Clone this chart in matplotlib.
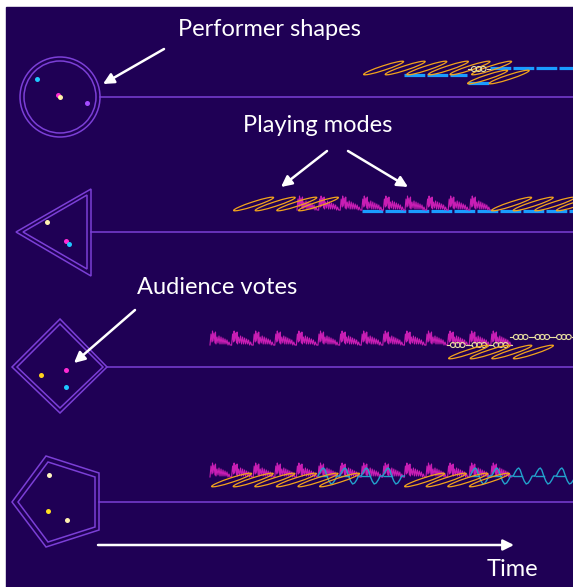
import numpy as np
import matplotlib
matplotlib.use('Agg')
import matplotlib.pyplot as plt
from matplotlib.patches import Ellipse, Polygon, Circle, Rectangle

W, H = 573, 587
BG = '#1f0055'
SHAPE = '#7b3fd6'
STEP = 21.6

# performer rows: y of the timeline and where it starts (right edge of the shape)
row_y = [97, 232, 367, 502]
line_start = [100, 91, 107, 99]

# shape outlines, pixel coords
circle_c = (60, 97)
circle_r = [40, 36]
tri_outer = [(16, 232), (91, 189), (91, 276)]
tri_inner = [(23, 232), (87, 195), (87, 269)]
dia_outer = [(12, 367), (60, 319), (107, 367), (60, 413)]
dia_inner = [(17, 367), (60, 324), (103, 367), (60, 408)]
pent_outer = [(12, 502), (46, 456), (99, 473), (99, 530), (46, 547)]
pent_inner = [(18, 502), (48, 462), (95, 477), (95, 527), (48, 542)]

# audience votes (x, y, colour)
dots = [
    (37, 79, '#1ec8ff'), (58, 95, '#ff2ad4'), (60, 97, '#fff2a8'), (87, 103, '#a44cff'),
    (47, 222, '#fff2b0'), (66, 241, '#ff2ad4'), (69, 244, '#1ec8ff'),
    (41, 375, '#ffd21e'), (66, 370, '#ff2ad4'), (66, 387, '#1ec8ff'),
    (49, 475, '#fff6c0'), (48, 511, '#ffe020'), (67, 520, '#fff0b0'),
]

# playing mode runs: (kind, x start, x end, y)
runs = [
    ('dash', 404, 467, 75), ('dash', 468, 490, 83), ('dash', 490, 573, 68),
    ('ellipse', 362, 505, 68), ('ellipse', 466, 526, 77), ('chain', 468, 490, 69),
    ('dash', 362, 573, 211), ('magenta', 297, 490, 210),
    ('ellipse', 232, 336, 204), ('ellipse', 490, 595, 204),
    ('magenta', 210, 512, 345), ('chain', 510, 573, 337), ('chain', 447, 510, 345),
    ('ellipse', 447, 548, 352),
    ('magenta', 210, 512, 477), ('wave', 318, 405, 476), ('wave', 470, 573, 476),
    ('ellipse', 210, 356, 480), ('ellipse', 403, 506, 480),
]

# glyph outlines for one repeat unit
mag_dx = [0, 1, 2, 2.5, 3, 4, 5, 5.5, 6, 7, 8, 9, 10, 11, 12, 13, 14, 15, 16, 17, 18, 19, 20, 21]
mag_dy = [0, -11, -3, -14, -4, -12, -2, -13, -1, -8, -2, -9, -1, -8, -1, -7, -1, -6, -1, -5, 0, -3, 0, 0]
wave_dx = [0, 2, 4, 5.5, 7, 9, 11, 13, 15, 17, 19, 21.6]
wave_dy = [0, -4, -7, -8, -6, 0, 5, 8, 7, 4, 0, 0]

fig = plt.figure(figsize=(W / 100, H / 100), dpi=100)
fig.patch.set_facecolor('white')
ax = fig.add_axes([0, 0, 1, 1])
ax.set_xlim(0, W)
ax.set_ylim(H, 0)
ax.axis('off')
ax.add_patch(Rectangle((6, 7), W - 6, H - 7, color=BG, zorder=0))

# shapes and timelines
for r in circle_r:
    ax.add_patch(Circle(circle_c, r, fill=False, ec=SHAPE, lw=1.1, zorder=2))
for pts in [tri_outer, tri_inner, dia_outer, dia_inner, pent_outer, pent_inner]:
    ax.add_patch(Polygon(pts, closed=True, fill=False, ec=SHAPE, lw=1.1, zorder=2))
for y, x0 in zip(row_y, line_start):
    ax.plot([x0, W], [y, y], color=SHAPE, lw=1.1, zorder=2)

for x, y, c in dots:
    ax.plot(x, y, 'o', ms=3.6, color=c, mec='none', zorder=5)


def draw_run(kind, x0, x1, y):
    n = max(1, int(round((x1 - x0) / STEP)))
    if kind == 'dash':
        ax.plot([x0, x1], [y, y], color='#1a9cff', lw=2.3, ls=(0, (6.5, 0.7)),
                solid_capstyle='butt', zorder=3)
        return
    for k in range(n):
        xu = x0 + k * STEP
        if kind == 'ellipse':
            if k == n - 1 and n > 1:
                continue
            ax.add_patch(Ellipse((xu + STEP, y), 42, 4.5, angle=-18, fill=False,
                                 ec='#f2a41c', lw=0.9, zorder=4))
        elif kind == 'magenta':
            ax.plot(xu + np.array(mag_dx), y + np.array(mag_dy), color='#c81eb4', lw=0.8, zorder=3)
        elif kind == 'wave':
            ax.plot(xu + np.array(wave_dx), y + np.array(wave_dy), color='#22a2cc', lw=1.0, zorder=3)
            ax.plot([xu + 1, xu + 9], [y, y], color='#22a2cc', lw=1.0, zorder=3)
        elif kind == 'chain':
            ax.plot([xu, xu + 3], [y, y], color='#e8dfa0', lw=0.8, zorder=4)
            ax.plot([xu + 18.5, xu + STEP], [y, y], color='#e8dfa0', lw=0.8, zorder=4)
            for cx in [6, 10.7, 15.4]:
                ax.add_patch(Ellipse((xu + cx, y), 5.2, 5, fill=False, ec='#e8dfa0', lw=0.8, zorder=4))


for kind, x0, x1, y in runs:
    draw_run(kind, x0, x1, y)

# labels and arrows
font = dict(color='white', fontsize=17, family='Lato', ha='center', va='center')
ax.text(269, 29, 'Performer shapes', **font)
ax.text(318, 126, 'Playing modes', **font)
ax.text(217, 288, 'Audience votes', **font)
ax.text(512, 569, 'Time', **font)

arrow = dict(arrowstyle='-|>', color='white', lw=1.8, mutation_scale=16, shrinkA=0, shrinkB=0)
for tail, head in [((164, 49), (103, 84)), ((327, 151), (281, 187)),
                   ((348, 151), (408, 187)), ((135, 310), (74, 363)),
                   ((98, 545), (514, 545))]:
    ax.annotate('', xy=head, xytext=tail, arrowprops=arrow, zorder=6)

fig.savefig('out.png', dpi=100, facecolor='white')
